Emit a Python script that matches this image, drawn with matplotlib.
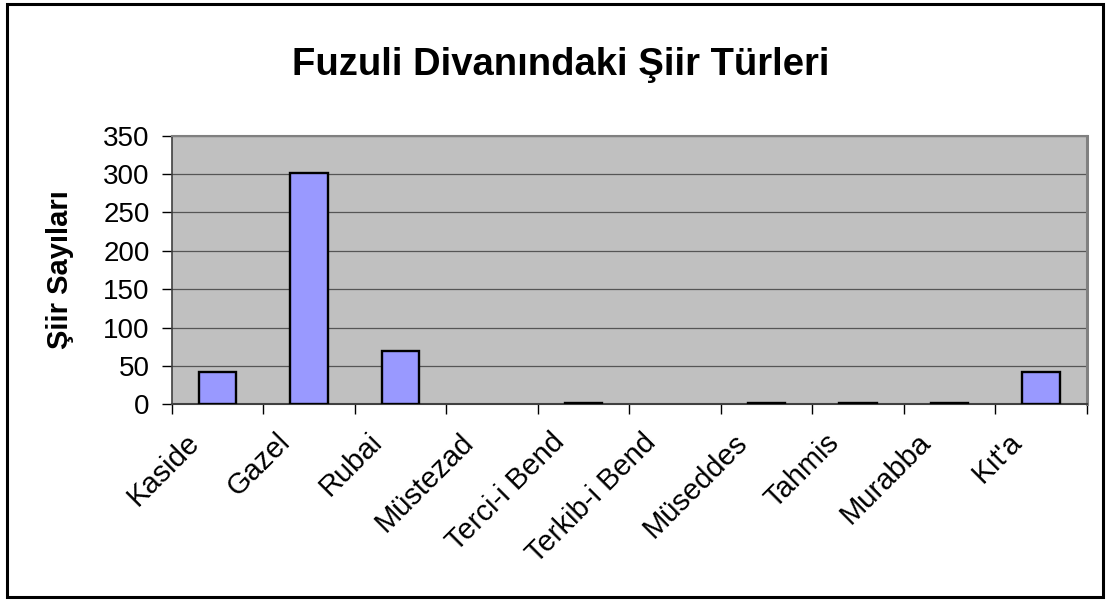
import matplotlib
matplotlib.use("Agg")
import matplotlib.pyplot as plt
import matplotlib.transforms as mtransforms
from matplotlib.patches import Rectangle
import numpy as np

plt.rcParams['font.family'] = ['Liberation Sans', 'DejaVu Sans']

# data
turler = ['Kaside', 'Gazel', 'Rubai', 'Müstezad', 'Terci-i Bend', 'Terkib-i Bend',
          'Müseddes', 'Tahmis', 'Murabba', "Kıt'a"]
sayilar = [42, 302, 70, 0, 2, 0, 2, 2, 2, 42]
y_ticks = [0, 50, 100, 150, 200, 250, 300, 350]

fig = plt.figure(figsize=(11.08, 6.01), dpi=100)
ax = fig.add_axes([0.1552, 0.327, 0.8255, 0.4472])

x = np.arange(len(turler))
ax.set_facecolor('#c0c0c0')
# empty categories get no outline
lws = [1.7 if v > 0 else 0 for v in sayilar]
ax.bar(x, sayilar, width=0.41, color='#9999ff', edgecolor='black', linewidth=lws, zorder=3)

ax.set_xlim(-0.5, len(turler) - 0.5)
ax.set_ylim(0, 350)
ax.set_yticks(y_ticks)
ax.yaxis.grid(True, color='#555555', linewidth=0.9, zorder=1)
ax.set_axisbelow(True)

# category labels at centres, tick marks at category boundaries
ax.set_xticks(x)
ax.set_xticklabels(turler, rotation=45, ha='right', rotation_mode='anchor', fontsize=21)
ax.set_xticks(np.arange(-0.5, len(turler)), minor=True)
ax.tick_params(axis='x', which='major', length=0, pad=17)
ax.tick_params(axis='x', which='minor', length=7, width=1, color='black', direction='out')
ax.tick_params(axis='y', length=7, width=1, color='black', labelsize=20, pad=9)
shift = mtransforms.ScaledTranslation(-0.33, 0, fig.dpi_scale_trans)
for lab in ax.get_xticklabels():
    lab.set_transform(lab.get_transform() + shift)

ax.spines['left'].set_color('#404040')
ax.spines['left'].set_linewidth(1.2)
ax.spines['bottom'].set_color('#404040')
ax.spines['bottom'].set_linewidth(1.5)
ax.spines['top'].set_color('#808080')
ax.spines['top'].set_linewidth(1.5)
ax.spines['right'].set_color('#808080')
ax.spines['right'].set_linewidth(2.2)

ax.set_ylabel('Şiir Sayıları', fontsize=21, fontweight='bold', labelpad=21)
fig.text(0.506, 0.875, 'Fuzuli Divanındaki Şiir Türleri', fontsize=27.5, fontweight='bold',
         ha='center', va='baseline')

# border around the whole chart
fig.patches.append(Rectangle((0.0059, 0.0067), 0.9896, 0.9866, transform=fig.transFigure,
                             fill=False, edgecolor='black', linewidth=2.2))

plt.savefig('out.png', dpi=100)
